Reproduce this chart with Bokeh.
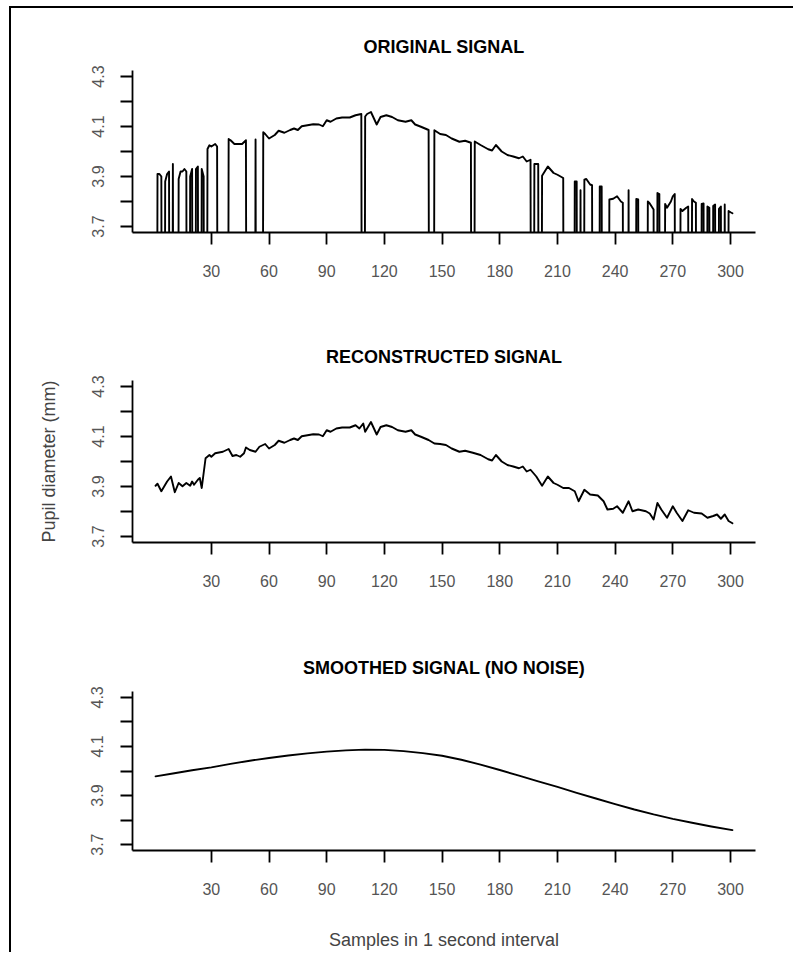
from bokeh.plotting import figure
from bokeh.models import Range1d, FixedTicker
from bokeh.layouts import column
from bokeh.embed import file_html
from bokeh.resources import INLINE

# ---------------- data ----------------
x_ticks = [30, 60, 90, 120, 150, 180, 210, 240, 270, 300]
y_major_ticks = [3.7, 3.9, 4.1, 4.3]
y_minor_ticks = [3.8, 4.0, 4.2]

titles = ["ORIGINAL SIGNAL", "RECONSTRUCTED SIGNAL", "SMOOTHED SIGNAL (NO NOISE)"]
y_label = "Pupil diameter (mm)"
x_label = "Samples in 1 second interval"

# original signal: blinks recorded as 0
orig_x = [1, 2, 3, 4, 5, 6, 7, 8, 9, 10, 11, 12, 13, 14, 15, 16, 17, 18, 19, 20,
          21, 22, 23, 24, 25, 26, 27, 28, 29, 30, 31, 32, 33, 34, 38, 39, 40, 42, 44, 46,
          48, 49, 52, 53, 54, 56, 57, 58, 60, 63, 65, 68, 71, 73, 75, 77, 80, 83, 86, 88,
          90, 92, 95, 98, 102, 105, 108, 109, 110, 111, 113, 116, 118, 121, 124, 127, 131, 134, 136, 139,
          143, 144, 145, 146, 149, 152, 155, 159, 162, 165, 166, 167, 170, 174, 176, 178, 181, 184, 187, 190,
          192, 194, 196, 197, 198, 199, 200, 201, 202, 205, 208, 210, 213, 214, 218, 219, 220, 221, 222, 223,
          224, 225, 227, 228, 229, 231, 232, 233, 234, 236, 237, 239, 241, 243, 244, 245, 246, 247, 248, 250,
          251, 252, 253, 256, 257, 258, 260, 261, 262, 263, 264, 265, 266, 267, 269, 270, 271, 272, 273, 274,
          275, 277, 278, 279, 280, 281, 282, 283, 284, 285, 286, 287, 288, 289, 290, 291, 292, 293, 294, 295,
          296, 297, 298, 299, 300, 301]
orig_y = [0, 3.91, 3.91, 3.90, 0, 3.88, 3.91, 3.92, 0, 3.95, 0, 0, 3.89, 3.92, 3.92, 3.93, 3.92, 0, 3.90, 3.93,
          0, 3.93, 3.94, 0, 3.93, 3.90, 0, 4.01, 4.025, 4.02, 4.025, 4.03, 4.02, 0, 0, 4.05, 4.045, 4.03, 4.03, 4.03,
          4.045, 0, 0, 4.048, 0, 0, 4.077, 4.07, 4.052, 4.066, 4.083, 4.075, 4.086, 4.092, 4.086, 4.101, 4.105, 4.109, 4.108, 4.101,
          4.125, 4.119, 4.132, 4.136, 4.136, 4.145, 4.15, 0, 4.14, 4.15, 4.158, 4.108, 4.138, 4.145, 4.138, 4.125, 4.119, 4.125, 4.108, 4.099,
          4.086, 0, 0, 4.085, 4.070, 4.066, 4.052, 4.039, 4.043, 4.035, 0, 4.04, 4.026, 4.009, 4.004, 4.026, 4.0, 3.986, 3.98, 3.973,
          3.98, 3.96, 3.967, 0, 3.95, 3.95, 3.95, 0, 3.903, 3.94, 3.914, 3.907, 3.894, 0, 0, 3.88, 3.88, 0, 3.845, 0,
          3.887, 3.89, 3.868, 3.865, 0, 0, 3.86, 3.86, 0, 0, 3.808, 3.811, 3.821, 3.80, 3.795, 0, 0, 3.845, 0, 0,
          3.81, 3.808, 0, 0, 3.80, 3.792, 3.768, 0, 3.834, 3.83, 0, 0, 3.79, 3.775, 3.80, 3.821, 3.83, 0, 0, 3.77,
          3.762, 3.775, 3.78, 0, 3.81, 3.80, 3.795, 0, 0, 3.79, 3.792, 0, 3.78, 3.775, 0, 3.782, 3.788, 0, 3.771, 3.78,
          0, 3.788, 0, 3.762, 3.757, 3.753]

# reconstructed signal (blinks filled)
recon_x = [1, 2, 4, 6, 7, 9, 11, 13, 15, 17, 19, 20, 21, 23, 24, 25, 27, 29, 30, 32,
           36, 39, 41, 43, 45, 47, 48, 50, 53, 55, 58, 60, 63, 65, 68, 71, 73, 75, 77, 80,
           83, 86, 88, 90, 92, 95, 98, 102, 105, 107, 109, 110, 113, 116, 118, 121, 124, 127, 131, 134,
           136, 139, 143, 146, 149, 152, 155, 159, 162, 166, 170, 174, 176, 178, 181, 184, 187, 190, 192, 194,
           196, 199, 202, 205, 208, 210, 213, 216, 219, 221, 224, 227, 231, 234, 236, 239, 241, 244, 247, 249,
           252, 256, 258, 260, 262, 264, 267, 270, 272, 275, 278, 281, 285, 288, 291, 293, 295, 297, 299, 301]
recon_y = [3.903, 3.911, 3.881, 3.907, 3.92, 3.94, 3.877, 3.914, 3.901, 3.914, 3.903, 3.92, 3.907, 3.927, 3.934, 3.894, 4.013, 4.026, 4.019, 4.033,
           4.039, 4.05, 4.022, 4.026, 4.019, 4.033, 4.056, 4.046, 4.039, 4.059, 4.07, 4.052, 4.066, 4.083, 4.075, 4.086, 4.092, 4.086, 4.101, 4.105,
           4.109, 4.108, 4.101, 4.125, 4.119, 4.132, 4.136, 4.136, 4.145, 4.132, 4.152, 4.119, 4.158, 4.108, 4.138, 4.145, 4.138, 4.125, 4.119, 4.125,
           4.108, 4.099, 4.086, 4.072, 4.07, 4.066, 4.052, 4.039, 4.043, 4.035, 4.026, 4.009, 4.004, 4.026, 4.0, 3.986, 3.98, 3.973, 3.98, 3.96,
           3.967, 3.94, 3.903, 3.94, 3.914, 3.907, 3.894, 3.894, 3.881, 3.841, 3.887, 3.868, 3.864, 3.841, 3.808, 3.811, 3.821, 3.795, 3.841, 3.801,
           3.808, 3.801, 3.792, 3.768, 3.834, 3.808, 3.775, 3.821, 3.795, 3.762, 3.805, 3.795, 3.792, 3.775, 3.782, 3.788, 3.771, 3.788, 3.762, 3.753]

# smoothed signal
smooth_x = [1, 10, 20, 30, 40, 50, 60, 70, 80, 90, 100, 110, 120, 130, 140, 150,
            160, 170, 180, 190, 200, 210, 220, 230, 240, 250, 260, 270, 280, 290, 301]
smooth_y = [3.978, 3.99, 4.003, 4.015, 4.029, 4.042, 4.053, 4.063, 4.072, 4.079, 4.084, 4.087, 4.086, 4.081, 4.073, 4.062,
            4.046, 4.026, 4.004, 3.981, 3.958, 3.935, 3.911, 3.888, 3.865, 3.843, 3.823, 3.805, 3.789, 3.774, 3.759]

series = [(orig_x, orig_y), (recon_x, recon_y), (smooth_x, smooth_y)]

# ---------------- styling ----------------
FONT = "Liberation Sans"
W = 782
heights = [310, 310, 324]
tops = [62, 62, 63]
frame_h = [162, 162, 163]


def make_panel(i):
    h = heights[i]
    p = figure(width=W, height=h,
               x_range=Range1d(-11, 313), y_range=Range1d(3.676, 4.324),
               output_backend="svg", toolbar_location=None,
               min_border_left=121, min_border_right=W - 121 - 623,
               min_border_top=tops[i], min_border_bottom=h - tops[i] - frame_h[i])
    p.title.text = titles[i]
    p.title.align = "center"
    p.title.text_font = FONT
    p.title.text_font_size = "18px"
    p.title.text_font_style = "bold"
    p.title.text_color = "black"
    p.title.standoff = 28
    p.grid.visible = False
    p.outline_line_color = None
    p.background_fill_color = "white"
    p.border_fill_color = "white"

    xs, ys = series[i]
    p.line(xs, ys, line_color="black", line_width=1.9, line_join="round", line_cap="round")

    xa = p.xaxis[0]
    xa.ticker = FixedTicker(ticks=x_ticks)
    ya = p.yaxis[0]
    ya.ticker = FixedTicker(ticks=y_major_ticks, minor_ticks=y_minor_ticks)
    for ax in (xa, ya):
        ax.axis_line_color = "black"
        ax.axis_line_width = 1.8
        ax.major_tick_line_color = "black"
        ax.major_tick_line_width = 1.8
        ax.major_tick_out = 12
        ax.major_tick_in = 0
        ax.major_label_text_font = FONT
        ax.major_label_text_font_size = "16px"
        ax.major_label_text_color = "#555555"
        ax.axis_label_text_font = FONT
        ax.axis_label_text_font_size = "18px"
        ax.axis_label_text_font_style = "normal"
        ax.axis_label_text_color = "#444444"
    xa.minor_tick_line_color = None
    xa.major_label_standoff = 20
    ya.minor_tick_line_color = "black"
    ya.minor_tick_line_width = 1.8
    ya.minor_tick_out = 12
    ya.minor_tick_in = 0
    ya.major_label_orientation = "vertical"
    ya.major_label_standoff = 17
    if i == 1:
        ya.axis_label = y_label
        ya.axis_label_standoff = 30
    if i == 2:
        xa.axis_label = x_label
        xa.axis_label_standoff = 32
    return p


panels = [make_panel(i) for i in range(3)]
layout = column(*panels, margin=(6, 0, 0, 9),
                styles={"border-left": "2px solid black", "border-top": "2px solid black"})

open("out.html", "w").write(file_html(layout, INLINE))
